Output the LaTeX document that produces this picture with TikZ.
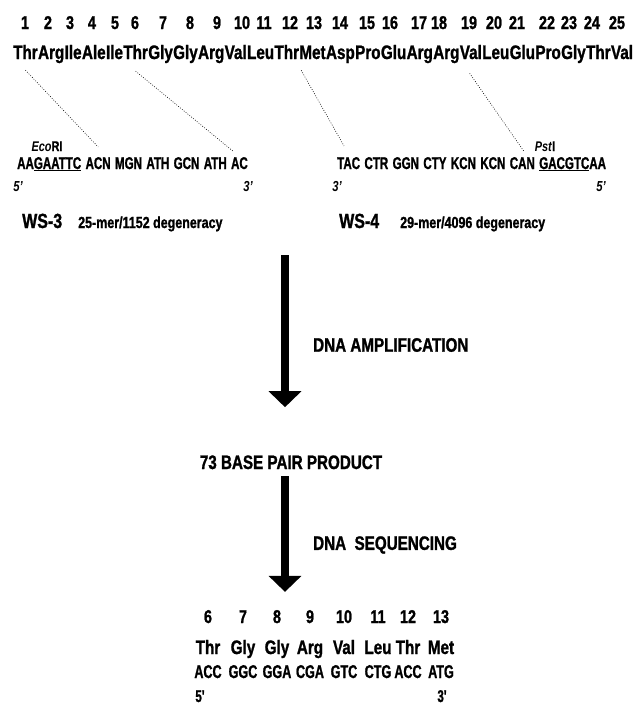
\documentclass[tikz,border=0pt]{standalone}
\usepackage{fontspec}
\setmainfont{Liberation Sans}[FakeStretch=0.78, BoldFeatures={FakeBold=1.2}]
\newfontfamily\condfont{Liberation Sans}[FakeStretch=0.68, BoldFeatures={FakeBold=1.1}]
\usetikzlibrary{arrows.meta,positioning}

\tikzset{
  resid/.style={font=\bfseries\fontsize{19.5}{21}\selectfont, inner sep=0pt},
  seqnum/.style={font=\bfseries\fontsize{18.5}{20}\selectfont, inner sep=0pt},
  codon/.style={font=\condfont\bfseries\fontsize{17}{19}\selectfont, inner sep=0pt},
  readcodon/.style={font=\condfont\bfseries\fontsize{18.5}{20}\selectfont, inner sep=0pt},
  enzyme/.style={font=\bfseries\fontsize{14}{16}\selectfont, inner sep=0pt},
  endmark/.style={font=\bfseries\itshape\fontsize{14.5}{16}\selectfont, inner sep=0pt},
  primername/.style={font=\bfseries\fontsize{20.5}{22}\selectfont, inner sep=0pt},
  degen/.style={font=\bfseries\fontsize{16}{18}\selectfont, inner sep=0pt},
  steplabel/.style={font=\bfseries\fontsize{19.5}{21}\selectfont, inner sep=0pt},
  guide/.style={line width=0.6pt, dash pattern=on 0.8pt off 1.6pt},
  bigarrow/.style={line width=8pt, -{Triangle[width=32pt,length=16pt]}},
}

\begin{document}
\begin{tikzpicture}[x=1pt,y=-1pt]
  \useasboundingbox (0,0) rectangle (636,715);
  \fill[white] (0,0) rectangle (636,715);

  % protein sequence with residue numbers
  \node[resid, anchor=base west] (r1) at (13,59) {Thr};
  \foreach \res [count=\i from 2, remember=\i as \j (initially 1)] in
      {Arg,Ile,Ale,Ile,Thr,Gly,Gly,Arg,Val,Leu,Thr,Met,Asp,Pro,Glu,Arg,Arg,Val,Leu,Glu,Pro,Gly,Thr,Val}
    \node[resid, base right=0pt of r\j] (r\i) {\res};
  \foreach \x [count=\i] in {25,48,70,92,115,135,163,190,217,242,264,290,314,340,367,390,419,439,469,494,517,547,569,592,617}
    \node[seqnum, anchor=base] (n\i) at (\x,29) {\i};

  % primer WS-3
  \node[codon, anchor=base west] (p1s) at (17,169) {AA\underline{GAATTC}};
  \foreach \cod [count=\i, remember=\i as \j (initially 0)] in {ACN,MGN,ATH,GCN,ATH,AC} {
    \ifnum\i=1
      \node[codon, base right=4pt of p1s] (p1c\i) {\cod};
    \else
      \node[codon, base right=4pt of p1c\j] (p1c\i) {\cod};
    \fi
  }
  \node[enzyme, anchor=base] (eco) at (47,151) {\textit{Eco}RI};
  \node[endmark, anchor=base] (p1five) at (18,191) {5'};
  \node[endmark, anchor=base] (p1three) at (248,191) {3'};
  \node[primername, anchor=base west] (ws3) at (22,228) {WS-3};
  \node[degen, anchor=base west] (ws3deg) at (78,228) {25-mer/1152 degeneracy};

  % primer WS-4
  \node[codon, anchor=base west] (p2c1) at (337,169) {TAC};
  \foreach \cod [count=\i from 2, remember=\i as \j (initially 1)] in {CTR,GGN,CTY,KCN,KCN,CAN}
    \node[codon, base right=4pt of p2c\j] (p2c\i) {\cod};
  \node[codon, base right=4pt of p2c7] (p2s) {\underline{GACGTC}AA};
  \node[enzyme, anchor=base] (pst) at (545,151) {\textit{Pst}I};
  \node[endmark, anchor=base] (p2three) at (337,191) {3'};
  \node[endmark, anchor=base] (p2five) at (601,191) {5'};
  \node[primername, anchor=base west] (ws4) at (339,228) {WS-4};
  \node[degen, anchor=base west] (ws4deg) at (400,228) {29-mer/4096 degeneracy};

  % residues covered by the primers
  \draw[guide] ([yshift=-11pt]r1.south) -- ([yshift=10pt]p1c1.north);
  \draw[guide] ([yshift=-12pt]r6.south) -- ([xshift=3pt,yshift=5pt]p1c6.north west);
  \draw[guide] ([xshift=2pt,yshift=-11pt]r13.south west) -- ([xshift=7pt,yshift=11pt]p2c1.north west);
  \draw[guide] ([xshift=10pt,yshift=-14pt]r19.south west) -- ([xshift=2pt,yshift=5pt]p2c7.north);

  % amplification and sequencing
  \coordinate (amp) at (285,255);
  \node[steplabel, anchor=west] (amplab) at (313,345) {DNA AMPLIFICATION};
  \node[steplabel, anchor=base] (prod) at (291,469) {73 BASE PAIR PRODUCT};
  \node[steplabel, anchor=west] (seqlab) at (313,545) {DNA\ \ SEQUENCING};
  \draw[bigarrow, shorten >=48pt] (amp) -- (amp |- prod.north);

  % sequenced stretch
  \foreach \x/\n/\r/\c [count=\i] in {208/6/Thr/ACC,243/7/Gly/GGC,277/8/Gly/GGA,310/9/Arg/CGA,
                                      344/10/Val/GTC,378/11/Leu/CTG,408/12/Thr/ACC,441/13/Met/ATG} {
    \node[seqnum, anchor=base] (bn\i) at (\x,623) {\n};
    \node[resid, anchor=base] (br\i) at (\x,654) {\r};
    \node[readcodon, anchor=base] (bc\i) at (\x,678) {\c};
  }
  \node[codon, anchor=base] (bfive) at (200,702) {5'};
  \node[codon, anchor=base] (bthree) at (442,702) {3'};
  \draw[bigarrow, shorten <=7pt, shorten >=18pt] (prod.south -| amp) -- (amp |- bn3.north);
\end{tikzpicture}
\end{document}
